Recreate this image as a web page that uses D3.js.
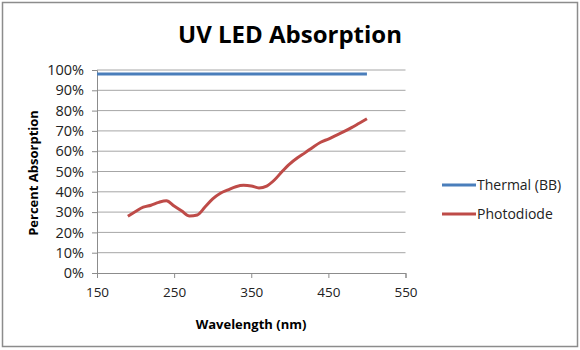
<!DOCTYPE html>
<html><head><meta charset="utf-8">
<script src="https://cdn.jsdelivr.net/npm/d3@7"></script>
<style>body{margin:0;background:#fff}svg{display:block}</style>
</head><body>
<svg id="c" width="580" height="350"></svg>
<script>
const title = "UV LED Absorption";
const xTicks = [150, 250, 350, 450, 550];
const yTicks = [0, 0.1, 0.2, 0.3, 0.4, 0.5, 0.6, 0.7, 0.8, 0.9, 1.0];
const seriesNames = ["Thermal (BB)", "Photodiode"];
const seriesColors = ["#4a7ebb", "#be4b48"];
const thermalX = [150, 500];
const thermalY = [0.98, 0.98];
const photoX = [190,200,210,220,230,240,250,260,270,280,290,300,310,320,330,340,350,360,370,380,390,400,410,420,430,440,450,460,470,480,490,500];
const photoY = [0.28,0.303,0.324,0.334,0.348,0.356,0.33,0.305,0.281,0.286,0.325,0.365,0.393,0.41,0.425,0.432,0.429,0.419,0.428,0.458,0.50,0.538,0.568,0.593,0.62,0.644,0.66,0.678,0.696,0.716,0.738,0.76];

const svg = d3.select("#c");
const font = "'Open Sans', Lato, sans-serif";
svg.append("rect").attr("x",2.5).attr("y",2.5).attr("width",575).attr("height",344)
  .attr("fill","#fff").attr("stroke","#8c8c8c").attr("stroke-width",1.5);

const x = d3.scaleLinear().domain([150,550]).range([97,405.5]);
const y = d3.scaleLinear().domain([0,1]).range([273,70]);

// gridlines
svg.append("g").selectAll("line").data(yTicks.slice(1)).join("line")
  .attr("x1",x(150)).attr("x2",x(550)).attr("y1",d=>y(d)).attr("y2",d=>y(d))
  .attr("stroke","#a6a6a6").attr("stroke-width",1);

const yAxis = svg.append("g").attr("transform",`translate(${x(150)},0)`)
  .call(d3.axisLeft(y).tickValues(yTicks).tickFormat(d3.format(".0%")).tickSize(5).tickPadding(8));
const xAxis = svg.append("g").attr("transform",`translate(0,${y(0)})`)
  .call(d3.axisBottom(x).tickValues(xTicks).tickFormat(d3.format("d")).tickSize(5).tickPadding(9));
[yAxis,xAxis].forEach(a=>{
  a.select(".domain").attr("stroke","#8c8c8c");
  a.selectAll(".tick line").attr("stroke","#8c8c8c");
  a.selectAll("text").attr("font-family",font).attr("font-size",13.5).attr("fill","#222");
});
yAxis.selectAll("text").attr("font-size",14.5);

const line = d3.line().x(d=>x(d[0])).y(d=>y(d[1])).curve(d3.curveMonotoneX);
svg.append("path").datum(thermalX.map((v,i)=>[v,thermalY[i]])).attr("d",line)
  .attr("fill","none").attr("stroke",seriesColors[0]).attr("stroke-width",3);
svg.append("path").datum(photoX.map((v,i)=>[v,photoY[i]])).attr("d",line)
  .attr("fill","none").attr("stroke",seriesColors[1]).attr("stroke-width",3).attr("stroke-linejoin","round");

svg.append("text").attr("x",290).attr("y",43).attr("text-anchor","middle")
  .attr("font-family",font).attr("font-weight","bold").attr("font-size",24).attr("fill","#000").text(title);
svg.append("text").attr("transform","translate(38,173) rotate(-90)").attr("text-anchor","middle")
  .attr("font-family",font).attr("font-weight","bold").attr("font-size",13).attr("fill","#000").text("Percent Absorption");
svg.append("text").attr("x",251).attr("y",329).attr("text-anchor","middle")
  .attr("font-family",font).attr("font-weight","bold").attr("font-size",13).attr("fill","#000").text("Wavelength (nm)");

const leg = svg.append("g");
seriesNames.forEach((n,i)=>{
  const yy = 185 + i*29;
  leg.append("line").attr("x1",442).attr("x2",476).attr("y1",yy).attr("y2",yy)
    .attr("stroke",seriesColors[i]).attr("stroke-width",3);
  leg.append("text").attr("x",477).attr("y",yy+5).attr("font-family",font).attr("font-size",14)
    .attr("fill","#222").text(n);
});
</script>
</body></html>
